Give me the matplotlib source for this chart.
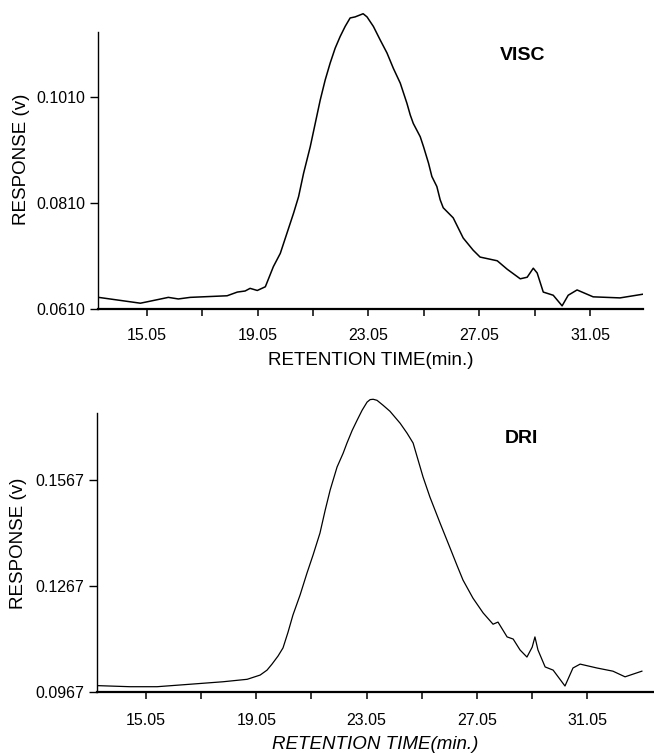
import matplotlib.pyplot as plt

plt.rcParams["font.family"] = ["Liberation Sans", "DejaVu Sans"]

# VISC detector trace
visc_time = [13.31, 14.82, 15.10, 15.83, 16.19, 16.62, 17.95, 18.32, 18.60, 18.78,
             19.04, 19.33, 19.62, 19.87, 20.11, 20.35, 20.53, 20.71, 20.95, 21.13,
             21.31, 21.49, 21.67, 21.85, 22.03, 22.21, 22.39, 22.57, 22.86, 23.00,
             23.23, 23.47, 23.72, 23.95, 24.20, 24.44, 24.56, 24.67, 24.92, 25.04,
             25.22, 25.34, 25.52, 25.64, 25.75, 26.11, 26.47, 26.83, 27.08, 27.70,
             28.06, 28.53, 28.78, 29.00, 29.14, 29.36, 29.72, 30.04, 30.26, 30.58,
             31.16, 32.13, 32.96]
visc_resp = [0.0632, 0.0621, 0.0624, 0.0632, 0.0629, 0.0632, 0.0635, 0.0642, 0.0644, 0.0649,
             0.0645, 0.0652, 0.0690, 0.0715, 0.0753, 0.0791, 0.0822, 0.0866, 0.0916, 0.0960,
             0.1004, 0.1042, 0.1074, 0.1102, 0.1124, 0.1143, 0.1159, 0.1161, 0.1167, 0.1161,
             0.1143, 0.1118, 0.1093, 0.1064, 0.1036, 0.0998, 0.0976, 0.0960, 0.0935, 0.0916,
             0.0885, 0.0860, 0.0841, 0.0816, 0.0801, 0.0782, 0.0744, 0.0721, 0.0708, 0.0701,
             0.0685, 0.0667, 0.0670, 0.0687, 0.0678, 0.0642, 0.0636, 0.0616, 0.0636, 0.0646,
             0.0633, 0.0631, 0.0638]

# DRI detector trace
dri_time = [13.31, 14.47, 15.45, 16.65, 17.84, 18.72, 19.19, 19.44, 19.62, 19.84,
            20.02, 20.20, 20.38, 20.64, 20.89, 21.11, 21.36, 21.55, 21.73, 21.98,
            22.20, 22.34, 22.53, 22.71, 22.89, 23.07, 23.18, 23.29, 23.43, 23.65,
            23.90, 24.27, 24.52, 24.74, 24.92, 25.10, 25.35, 25.72, 26.08, 26.33,
            26.55, 26.91, 27.28, 27.64, 27.82, 28.15, 28.37, 28.62, 28.87, 29.06,
            29.16, 29.27, 29.53, 29.82, 30.25, 30.54, 30.80, 31.41, 31.99, 32.43,
            33.04]
dri_resp = [0.0985, 0.0982, 0.0982, 0.0989, 0.0996, 0.1003, 0.1015, 0.1029, 0.1046, 0.1069,
            0.1092, 0.1136, 0.1185, 0.1242, 0.1304, 0.1355, 0.1417, 0.1482, 0.1539, 0.1604,
            0.1643, 0.1672, 0.1708, 0.1737, 0.1765, 0.1788, 0.1795, 0.1796, 0.1793, 0.1779,
            0.1762, 0.1728, 0.1700, 0.1672, 0.1624, 0.1576, 0.1519, 0.1445, 0.1375, 0.1326,
            0.1284, 0.1233, 0.1191, 0.1159, 0.1165, 0.1123, 0.1117, 0.1086, 0.1066, 0.1094,
            0.1123, 0.1086, 0.1038, 0.1029, 0.0984, 0.1035, 0.1046, 0.1035, 0.1026, 0.1010,
            0.1026]

x_ticks = [15.05, 17.05, 19.05, 21.05, 23.05, 25.05, 27.05, 29.05, 31.05]
x_labels = ["15.05", "", "19.05", "", "23.05", "", "27.05", "", "31.05"]
visc_yticks = [0.0610, 0.0810, 0.1010]
dri_yticks = [0.0967, 0.1267, 0.1567]


def panel(ax, t, r, xlim, ylim, yticks, spine_top, tag, tag_pos, italic, lw, pad):
    ax.plot(t, r, color="black", linewidth=lw)
    ax.set_xlim(*xlim)
    ax.set_ylim(*ylim)
    for s in ["top", "right"]:
        ax.spines[s].set_visible(False)
    ax.spines["left"].set_bounds(ylim[0], spine_top)
    ax.spines["left"].set_linewidth(1.0)
    ax.spines["bottom"].set_linewidth(1.6)
    ax.set_xticks(x_ticks)
    ax.set_xticklabels(x_labels)
    ax.set_yticks(yticks)
    ax.set_yticklabels(["%.4f" % v for v in yticks])
    ax.tick_params(axis="x", direction="out", length=5, width=1.1, pad=pad, labelsize=11.5)
    ax.tick_params(axis="y", direction="out", length=6, width=1.0, pad=3, labelsize=11.5)
    ax.set_ylabel("RESPONSE (v)", fontsize=13.5)
    ax.yaxis.set_label_coords(-0.125, 0.5)
    ax.set_xlabel("RETENTION TIME(min.)", fontsize=13.5, labelpad=6,
                  style="italic" if italic else "normal")
    ax.text(tag_pos[0], tag_pos[1], tag, fontsize=14, fontweight="bold",
            ha="center", va="center")


fig = plt.figure(figsize=(6.54, 7.53), dpi=100)
ax1 = fig.add_axes([0.1498, 0.5896, 0.8334, 0.3971])
ax2 = fig.add_axes([0.1483, 0.0810, 0.8517, 0.3944])

panel(ax1, visc_time, visc_resp, (13.29, 32.96), (0.0610, 0.1174), visc_yticks,
      0.1133, "VISC", (28.60, 0.1089), False, 1.1, 9)
panel(ax2, dri_time, dri_resp, (13.27, 33.48), (0.0967, 0.1808), dri_yticks,
      0.1757, "DRI", (28.66, 0.1686), True, 0.9, 10)

fig.savefig("out.png", dpi=100)
